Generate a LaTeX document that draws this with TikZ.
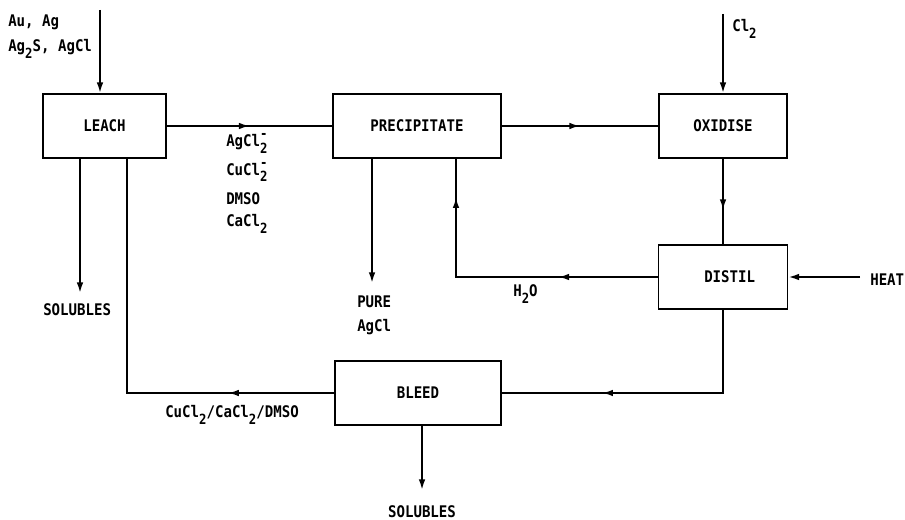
\documentclass[tikz,border=0pt]{standalone}
\usepackage{fontspec}
\setmainfont{DejaVu Sans Mono Bold}[FakeStretch=0.88]
\usetikzlibrary{arrows.meta,decorations.markings,calc}
\newcommand\sbtwo{\raisebox{-0.4em}{\fontsize{10.5pt}{10.5pt}\selectfont 2}}
\newcommand\sbsp{\rlap{\raisebox{0.48em}{\fontsize{10.5pt}{10.5pt}\selectfont -}}\sbtwo}
\tikzset{
  px/.style={x=0.75pt,y=-0.75pt},
  proc/.style={draw,line width=1.4pt,minimum width=#1*0.75pt,minimum height=64*0.75pt,inner sep=0pt},
  proc/.default=125,
  lbl/.style={inner sep=0pt,anchor=west},
  flow/.style={line width=1.4pt},
  tip/.style={flow,-{Latex[length=8pt,width=5pt]}},
  midarr/.style={flow,postaction={decorate},decoration={markings,mark=at position #1 with {\arrow{Latex[length=8pt,width=5pt]}}}},
  twoarr/.style 2 args={flow,postaction={decorate},decoration={markings,
     mark=at position #1 with {\arrow{Latex[length=8pt,width=5pt]}},
     mark=at position #2 with {\arrow{Latex[length=8pt,width=5pt]}}}}
}
\begin{document}
\begin{tikzpicture}[px,font=\fontsize{12pt}{14pt}\selectfont]
\useasboundingbox (0,0) rectangle (905,520);
% boxes
\node[proc=123] (leach) at (104.5,126) {LEACH};
\node[proc=168] (prec) at (417,126) {PRECIPITATE};
\node[proc=128] (ox) at (723,126) {OXIDISE};
\node[proc=129] (dist) at (723,277) {\hspace{10pt}DISTIL};
\node[proc=166] (bleed) at (418,393) {BLEED};
% free ends
\coordinate (inL) at (100,10);
\coordinate (solL) at (80,293);
\coordinate (inC) at (723,14);
\coordinate (heat0) at (860,277);
\coordinate (pure0) at (372,283);
\coordinate (solB) at (422,490);
\coordinate (retx) at (456,277);
\coordinate (dcorner) at (723,393);
\coordinate (lcorner) at (127,393);
% texts
\node[lbl] (t1) at (8,22) {Au, Ag};
\node[lbl] (t2) at (8,49) {Ag\sbtwo S, AgCl};
\node[lbl] (t3) at (226,143.5) {AgCl\sbsp};
\node[lbl] (t4) at (226,172) {CuCl\sbsp};
\node[lbl] (t5) at (226,199) {DMSO};
\node[lbl] (t6) at (226,224) {CaCl\sbtwo};
\node[lbl] (t7) at (732,29) {Cl\sbtwo};
\node[lbl] (t8) at (43,310) {SOLUBLES};
\node[lbl] (t9) at (357,302) {PURE};
\node[lbl] (t10) at (357,327) {AgCl};
\node[lbl] (t11) at (513,294) {H\sbtwo O};
\node[lbl] (t12) at (870,280) {HEAT};
\node[lbl] (t13) at (165,415) {CuCl\sbtwo/CaCl\sbtwo/DMSO};
\node[inner sep=0pt] (t14) at (422,512) {SOLUBLES};
% connectors
\draw[tip] (inL) -- (inL |- leach.north);
\draw[tip] (solL |- leach.south) -- (solL);
\draw[midarr=0.5] (leach) -- (prec);
\draw[midarr=0.5] (prec) -- (ox);
\draw[tip] (inC) -- (ox.north);
\draw[midarr=0.6] (ox) -- (dist);
\draw[tip] (heat0) -- (dist.east);
\draw[tip] (pure0 |- prec.south) -- (pure0);
\draw[twoarr={0.31}{0.88}] (dist.west) -- (retx) -- (retx |- prec.south);
\draw[midarr=0.67] (dist.south) -- (dcorner) -- (bleed.east);
\draw[midarr=0.24] (bleed.west) -- (lcorner) -- (lcorner |- leach.south);
\draw[tip] (solB |- bleed.south) -- (solB);
\end{tikzpicture}
\end{document}
